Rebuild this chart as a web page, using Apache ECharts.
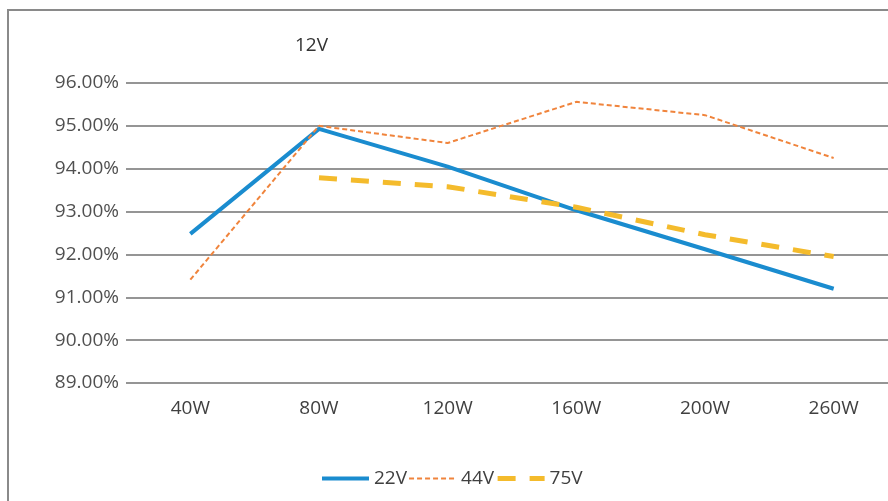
<!DOCTYPE html>
<html><head><meta charset="utf-8">
<script src="https://cdn.jsdelivr.net/npm/echarts@6/dist/echarts.min.js"></script>
<style>html,body{margin:0;padding:0;background:#fff}#c{width:888px;height:501px}</style>
</head><body><div id="c"></div>
<script>
const categories = ['40W','80W','120W','160W','200W','260W'];
const v22 = [92.48, 94.93, 94.05, 93.03, 92.12, 91.2];
const v44 = [91.41, 95.0, 94.6, 95.56, 95.25, 94.25];
const v75 = [null, 93.79, 93.58, 93.1, 92.46, 91.95];
const seriesNames = ['22V','44V','75V'];
const yTicks = [89, 90, 91, 92, 93, 94, 95, 96];

const chart = echarts.init(document.getElementById('c'));
const font = '"Open Sans", "Noto Sans", sans-serif';
const legendWidths = [4, 2, 5];
chart.setOption({
  animation: false,
  backgroundColor: '#fff',
  textStyle: { fontFamily: font },
  title: { text: '12V', left: 290, top: 31, textStyle: { fontSize: 19, fontWeight: 'normal', color: '#333', fontFamily: font } },
  graphic: [{ type: 'rect', shape: { x: 8, y: 10, width: 900, height: 520 }, style: { fill: 'none', stroke: '#8a8a8a', lineWidth: 2 }, silent: true }],
  grid: { left: 126, top: 83, width: 772, height: 300, containLabel: false, outerBoundsMode: 'none' },
  legend: {
    data: seriesNames.map((n, i) => ({ name: n, lineStyle: { width: legendWidths[i] } })),
    top: 464, left: 315, itemWidth: 47, itemHeight: 10, itemGap: 1,
    itemStyle: { opacity: 0 },
    textStyle: { fontSize: 19, color: '#404040', fontFamily: font }
  },
  xAxis: {
    type: 'category', data: categories, boundaryGap: true,
    axisLine: { show: false }, axisTick: { show: false },
    axisLabel: { fontSize: 19, color: '#404040', margin: 16, fontFamily: font }
  },
  yAxis: {
    type: 'value', min: yTicks[0], max: yTicks[yTicks.length - 1], interval: 1,
    axisLine: { show: false }, axisTick: { show: false },
    axisLabel: { fontSize: 19, color: '#505050', margin: 7, fontFamily: font, formatter: v => v.toFixed(2) + '%' },
    splitLine: { lineStyle: { color: '#959595', width: 2 } }
  },
  series: [
    { name: '22V', type: 'line', data: v22, symbol: 'none', lineStyle: { color: '#1a8ccf', width: 4 }, itemStyle: { color: '#1a8ccf' } },
    { name: '44V', type: 'line', data: v44, symbol: 'none', lineStyle: { color: '#f0843c', width: 2, type: [5, 3] }, itemStyle: { color: '#f0843c' } },
    { name: '75V', type: 'line', data: v75, symbol: 'none', lineStyle: { color: '#f4bb2c', width: 5, type: [18, 14] }, itemStyle: { color: '#f4bb2c' } }
  ]
});
</script></body></html>
